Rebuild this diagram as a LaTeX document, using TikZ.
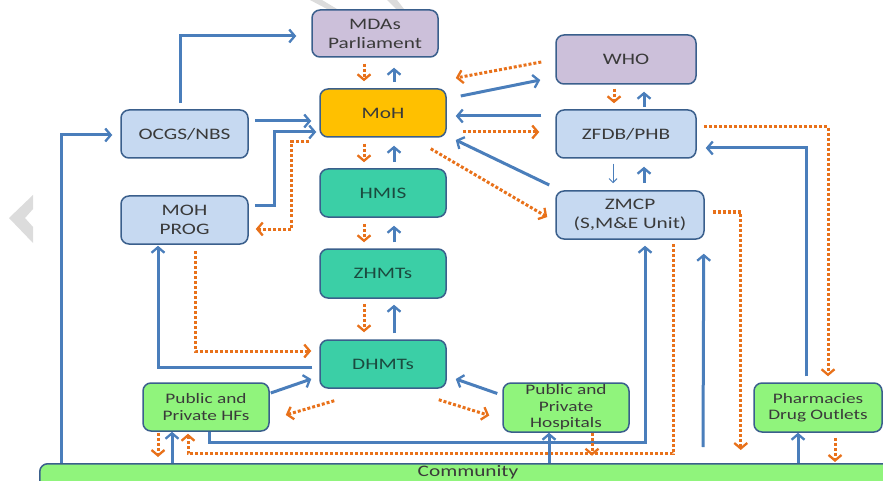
\documentclass[tikz,border=0pt]{standalone}
\usepackage{fontspec}
\setmainfont{Carlito}[FakeStretch=1.33]
\usetikzlibrary{arrows.meta,calc}
\definecolor{bluec}{HTML}{4A7EBB}
\definecolor{orc}{HTML}{E8711A}
\definecolor{bordc}{HTML}{3A5F8C}
\definecolor{lav}{HTML}{CCC0DA}
\definecolor{mohc}{HTML}{FFC000}
\definecolor{tealc}{HTML}{3BCFA6}
\definecolor{lbc}{HTML}{C6D9F1}
\definecolor{grn}{HTML}{90F47C}
\definecolor{txtc}{HTML}{3A3A3A}
\definecolor{tealtxt}{HTML}{1B4A3F}
\definecolor{wm}{HTML}{DCDCDC}
\begin{document}
\begin{tikzpicture}[x=1pt,y=-1pt,
  box/.style={draw=bordc, line width=1.5pt, rounded corners=8pt, align=center,
    inner sep=0pt, text=txtc, font=\fontsize{16}{19}\selectfont},
  bigbox/.style={box, minimum width=126pt, minimum height=48pt},
  smallbox/.style={box, minimum width=126pt, minimum height=48pt, font=\fontsize{14.5}{16.5}\selectfont},
  bl/.style={draw=bluec, line width=3pt, -{Straight Barb[length=5.5pt,width=13pt,line width=2.3pt]}},
  blthin/.style={draw=bluec, line width=1pt, -{Straight Barb[length=4pt,width=8pt,line width=1pt]}},
  orr/.style={draw=orc, line width=3pt, dash pattern=on 3pt off 2pt, -{Straight Barb[length=5.5pt,width=13pt,line width=2.3pt]}},
]
\useasboundingbox (0,0) rectangle (883,481);
\clip (0,0) rectangle (883,481);
% faint watermark shapes
\fill[wm] (33,195) -- (9,218) -- (33,243) -- (33,227) -- (25,218) -- (33,209) -- cycle;
\fill[wm] (310,0) -- (322,0) -- (337,9) -- (327,9) -- cycle;
\fill[wm] (387,0) -- (397,0) -- (404,9) -- (396,9) -- cycle;

% boxes
\node[bigbox, fill=lav, minimum height=47pt] (mda) at (375,33.5) {MDAs\\Parliament};
\node[bigbox, fill=mohc] (moh) at (383,113) {MoH};
\node[bigbox, fill=tealc, text=tealtxt] (hmis) at (383,193) {HMIS};
\node[bigbox, fill=tealc, text=tealtxt, minimum height=49pt] (zhmt) at (383,273.5) {ZHMTs};
\node[bigbox, fill=tealc, text=tealtxt] (dhmt) at (383,364) {DHMTs};
\node[bigbox, fill=lbc, minimum width=127pt] (ocgs) at (184.5,134) {OCGS/NBS};
\node[bigbox, fill=lbc, minimum width=127pt] (prog) at (184.5,220) {MOH\\PROG};
\node[bigbox, fill=lav, minimum width=140pt, minimum height=49pt] (who) at (626,59.5) {WHO};
\node[bigbox, fill=lbc, minimum width=140pt] (zfdb) at (626,134) {ZFDB/PHB};
\node[bigbox, fill=lbc, minimum width=148pt] (zmcp) at (630,215) {ZMCP\\(S,M\&E Unit)};
\node[smallbox, fill=grn] (hfs) at (206,407) {Public and\\Private HFs};
\node[smallbox, fill=grn, minimum height=49pt] (hosp) at (566,407.5) {Public and\\Private\\Hospitals};
\node[smallbox, fill=grn, minimum width=128pt, minimum height=49pt] (pharm) at (818,407.5) {Pharmacies\\Drug Outlets};
\node[box, fill=grn, minimum width=856pt, minimum height=42pt, anchor=north west] (comm) at (39,463) {};
\node[anchor=base, text=txtc, font=\fontsize{16}{19}\selectfont, inner sep=0pt] (commlabel) at (468,476) {Community};

% left column
\draw[bl, shorten <=6pt, shorten >=15pt] ($(ocgs.north)+(-4.5,0)$) |- ($(mda.west)+(0,2.5)$);
\draw[bl, shorten <=6pt, shorten >=8pt] ($(ocgs.east)+(0,-13)$) -- ($(moh.west)+(0,8)$);
\draw[bl] ($(prog.east)+(6,-14)$) -| ($(moh.west)+(-45,19)$) -- ($(moh.west)+(-3,19)$);
\draw[orr] ($(moh.west)+(-10,29)$) -| ($(prog.east)+(43,9)$) -- ($(prog.east)+(7,9)$);
\draw[orr] ($(prog.south)+(10.5,6)$) |- ($(dhmt.west)+(-8,-13)$);
\draw[bl] ($(dhmt.west)+(-7,3)$) -| ($(prog.south)+(-26.5,1)$);
\draw[bl] ($(comm.north west)+(22,0)$) |- ($(ocgs.west)+(-8,1)$);

% central column pairs
\draw[orr, shorten <=6pt, shorten >=7pt] ($(mda.south -| moh.north)+(-19,0)$) -- ($(moh.north)+(-19,0)$);
\draw[bl, shorten <=6pt, shorten >=10pt] ($(moh.north)+(11,0)$) -- ($(mda.south -| moh.north)+(11,0)$);
\draw[orr, shorten <=6pt, shorten >=6pt] ($(moh.south)+(-19,0)$) -- ($(hmis.north)+(-19,0)$);
\draw[bl, shorten <=6pt, shorten >=8pt] ($(hmis.north)+(11,0)$) -- ($(moh.south)+(11,0)$);
\draw[orr, shorten <=6pt, shorten >=6pt] ($(hmis.south)+(-19,0)$) -- ($(zhmt.north)+(-19,0)$);
\draw[bl, shorten <=6pt, shorten >=8pt] ($(zhmt.north)+(11,0)$) -- ($(hmis.south)+(11,0)$);
\draw[orr, shorten <=5pt, shorten >=7pt] ($(zhmt.south)+(-19,0)$) -- ($(dhmt.north)+(-19,0)$);
\draw[bl, shorten <=6pt, shorten >=6pt] ($(dhmt.north)+(11,0)$) -- ($(zhmt.south)+(11,0)$);

% health facilities
\draw[bl] ($(hfs.east)+(1,-14)$) -- ($(dhmt.west)+(-8,15)$);
\draw[orr] ($(dhmt.south west)+(15,12)$) -- ($(hfs.east)+(16,8)$);
\draw[orr] ($(hfs.south)+(-48,1)$) -- ($(comm.north -| hfs.south)+(-48,-6)$);
\draw[bl] ($(comm.north -| hfs.south)+(-34,0)$) -- ($(hfs.south)+(-34,0)$);
\draw[orr] ($(zmcp.south)+(43,4)$) |- ($(hfs.south)+(-18,22)$) -- ($(hfs.south)+(-18,2)$);
\draw[bl] ($(hfs.south)+(3,0)$) -- ($(hfs.south)+(3,11)$) -| ($(zmcp.south)+(15,6)$);
\draw[bl] ($(comm.north -| hosp.south)+(-17,0)$) -- ($(hosp.south)+(-17,0)$);
\draw[orr] ($(hosp.south)+(26,0)$) -- ($(hosp.south)+(26,23)$);
\draw[bl] ($(hosp.west)+(-5,-14)$) -- ($(dhmt.east)+(9,15)$);
\draw[orr] ($(dhmt.south east)+(-8,11)$) -- ($(hosp.west)+(-13,8)$);

% right side
\coordinate (fb) at (703,447);
\draw[bl] (fb) -- ($(zmcp.south east)+(-1,14)$);
\draw[orr] ($(zmcp.east)+(8,-3)$) -| ($(comm.north -| zmcp.east)+(36,-13)$);
\draw[orr] ($(zfdb.east)+(7,-7)$) -| ($(pharm.north)+(10,-6)$);
\draw[bl] ($(pharm.north)+(-12,-6)$) |- ($(zfdb.east)+(9,14)$);
\draw[bl] ($(comm.north -| pharm.south)+(-20,0)$) -- ($(pharm.south)+(-20,0)$);
\draw[orr] ($(pharm.south)+(17,5)$) -- ($(comm.north -| pharm.south)+(17,-1)$);

% MoH <-> WHO / ZFDB / ZMCP
\draw[orr] ($(who.west)+(-14,2.5)$) -- ($(moh.east)+(9,-35)$);
\draw[bl] ($(moh.east)+(14,-17)$) -- ($(who.west)+(-15,20.5)$);
\draw[bl] ($(zfdb.west)+(-14,-18)$) -- ($(moh.east)+(9,3)$);
\draw[orr] ($(moh.east)+(16,19)$) -- ($(zfdb.west)+(-16,-2)$);
\draw[bl] ($(zmcp.west)+(-6,-30)$) -- ($(moh.east)+(9,27)$);
\draw[orr] ($(moh.south east)+(-16,11)$) -- ($(zmcp.west)+(-8,2)$);

% WHO / ZFDB / ZMCP column
\draw[orr, shorten <=4pt, shorten >=6pt] ($(who.south)+(-12,0)$) -- ($(zfdb.north)+(-12,0)$);
\draw[bl, shorten <=2pt, shorten >=7pt] ($(zfdb.north)+(18,0)$) -- ($(who.south)+(18,0)$);
\draw[blthin, shorten <=5pt, shorten >=7pt] ($(zfdb.south)+(-13,0)$) -- ($(zmcp.north)+(-17,0)$);
\draw[bl, shorten <=7pt, shorten >=8pt] ($(zmcp.north)+(14,0)$) -- ($(zfdb.south)+(18,0)$);
\end{tikzpicture}
\end{document}
